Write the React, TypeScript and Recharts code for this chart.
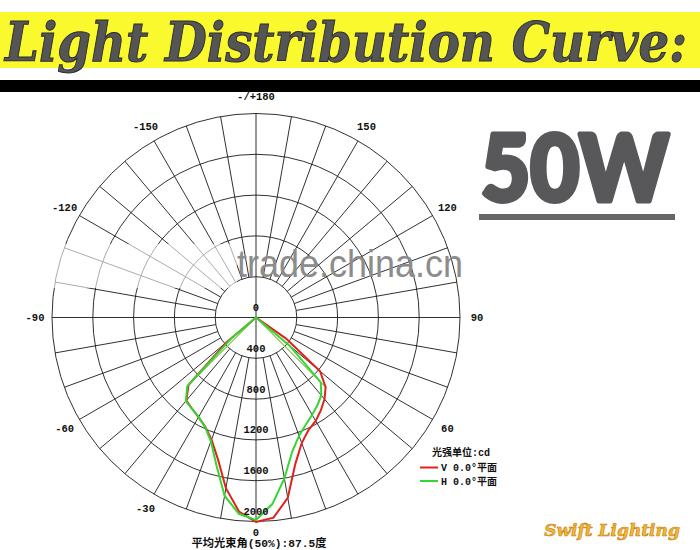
import React from 'react';
import { RadarChart, Radar, PolarGrid, PolarAngleAxis, PolarRadiusAxis } from 'recharts';

// ---- data ----
const angleDeg = [
  0, 5, 10, 15, 20, 25, 30, 35, 40, 45, 50, 55,
  60, 65, 70, 75, 80, 85, 90, 95, 100, 105, 110, 115,
  120, 125, 130, 135, 140, 145, 150, 155, 160, 165, 170, 175,
  180, 185, 190, 195, 200, 205, 210, 215, 220, 225, 230, 235,
  240, 245, 250, 255, 260, 265, 270, 275, 280, 285, 290, 295,
  300, 305, 310, 315, 320, 325, 330, 335, 340, 345, 350, 355,
];
// V 0.0° plane (red), cd
const vPlane = [
  2005, 1970, 1795, 1488, 1310, 1218, 1170, 1110, 1045, 965, 820, 360,
  0, 0, 0, 0, 0, 0, 0, 0, 0, 0, 0, 0,
  0, 0, 0, 0, 0, 0, 0, 0, 0, 0, 0, 0,
  0, 0, 0, 0, 0, 0, 0, 0, 0, 0, 0, 0,
  0, 0, 0, 0, 0, 0, 0, 0, 0, 0, 0, 0,
  0, 0, 380, 936, 1062, 1092, 1128, 1180, 1275, 1440, 1699, 1910,
];
// H 0.0° plane (green), cd
const hPlane = [
  1985, 1836, 1602, 1366, 1234, 1157, 1102, 1050, 996, 898, 430, 0,
  0, 0, 0, 0, 0, 0, 0, 0, 0, 0, 0, 0,
  0, 0, 0, 0, 0, 0, 0, 0, 0, 0, 0, 0,
  0, 0, 0, 0, 0, 0, 0, 0, 0, 0, 0, 0,
  0, 0, 0, 0, 0, 0, 0, 0, 0, 0, 0, 0,
  0, 0, 300, 954, 1070, 1095, 1126, 1183, 1292, 1499, 1774, 1932,
];
// beam-angle marker lines (50% intensity)
const beamV = [
  0, 0, 0, 0, 0, 0, 0, 0, 0, 980, 0, 0,
  0, 0, 0, 0, 0, 0, 0, 0, 0, 0, 0, 0,
  0, 0, 0, 0, 0, 0, 0, 0, 0, 0, 0, 0,
  0, 0, 0, 0, 0, 0, 0, 0, 0, 0, 0, 0,
  0, 0, 0, 0, 0, 0, 0, 0, 0, 0, 0, 0,
  0, 0, 0, 960, 0, 0, 0, 0, 0, 0, 0, 0,
];
const beamH = [
  0, 0, 0, 0, 0, 0, 0, 0, 0, 940, 0, 0,
  0, 0, 0, 0, 0, 0, 0, 0, 0, 0, 0, 0,
  0, 0, 0, 0, 0, 0, 0, 0, 0, 0, 0, 0,
  0, 0, 0, 0, 0, 0, 0, 0, 0, 0, 0, 0,
  0, 0, 0, 0, 0, 0, 0, 0, 0, 0, 0, 0,
  0, 0, 0, 930, 0, 0, 0, 0, 0, 0, 0, 0,
];
const radiusTicks = [0, 400, 800, 1200, 1600, 2000];
const angleTickDeg = [0, 60, 90, 120, 150, 180, 210, 240, 270, 300, 330];
const angleTickText = ['0', '60', '90', '120', '150', '-/+180', '-150', '-120', '-90', '-60', '-30'];
const gridAngles = [
  0, 10, 20, 30, 40, 50, 60, 70, 80, 90, 100, 110,
  120, 130, 140, 150, 160, 170, 180, 190, 200, 210, 220, 230,
  240, 250, 260, 270, 280, 290, 300, 310, 320, 330, 340, 350,
];

const rows = angleDeg.map((a, i) => ({ angle: a, V: vPlane[i], H: hPlane[i], bV: beamV[i], bH: beamH[i] }));

// ---- layout ----
const CX = 256;
const CY = 317.5;
const R = 204;
const R_MAX = 2000;
const INNER = (R * radiusTicks[1]) / R_MAX;
const LABEL_R = 221;
const STEP = 360 / angleDeg.length;
const labelFont = '"Liberation Mono", "DejaVu Sans Mono", monospace';
const cjkFont = '"Liberation Mono", "Noto Sans CJK SC", monospace';

const renderAngleTick = (props: any) => {
  const v = props?.payload?.value;
  const idx = angleTickDeg.indexOf(Number(v));
  if (idx < 0) return <g />;
  const rad = ((-90 + Number(v)) * Math.PI) / 180;
  const lr = Number(v) === 0 ? 215 : LABEL_R;
  const x = CX + lr * Math.cos(rad);
  const y = CY - lr * Math.sin(rad);
  return (
    <text x={x} y={y + 3.5} textAnchor="middle" fontFamily={labelFont} fontWeight="bold" fontSize={10.5} fill="#111">
      {angleTickText[idx]}
    </text>
  );
};

const renderRadiusTick = (props: any) => {
  const { x, y, payload } = props;
  return (
    <text x={x} y={y - 6.5} textAnchor="middle" fontFamily={labelFont} fontWeight="bold" fontSize={10.5} fill="#111">
      {payload?.value}
    </text>
  );
};

export default function App() {
  const radial = gridAngles.map((d) => {
    const r0 = d % 90 === 0 ? 0 : INNER;
    const rad = (d * Math.PI) / 180;
    return (
      <line
        key={d}
        x1={CX + r0 * Math.sin(rad)}
        y1={CY + r0 * Math.cos(rad)}
        x2={CX + R * Math.sin(rad)}
        y2={CY + R * Math.cos(rad)}
        stroke="#1a1a1a"
        strokeWidth={0.9}
      />
    );
  });

  return (
    <div style={{ position: 'absolute', left: 0, top: 0, width: 700, height: 550, background: '#fff', overflow: 'hidden' }}>
      <svg width={700} height={550} style={{ position: 'absolute', left: 0, top: 0 }}>
        <rect x={0} y={12} width={700} height={56} fill="#f9f92e" />
        <text
          x={5}
          y={61}
          fontFamily='"DejaVu Serif", serif'
          fontStyle="italic"
          fontWeight="bold"
          fontSize={54}
          textLength={682}
          lengthAdjust="spacingAndGlyphs"
          fill="#555"
          stroke="#2c2c2c"
          strokeWidth={1}
        >
          Light Distribution Curve:
        </text>
        <rect x={0} y={80} width={700} height={12} fill="#000" />
        {radial}
        <text
          x={481}
          y={201}
          fontFamily='Lato, "Open Sans", sans-serif'
          fontWeight={900}
          fontSize={92}
          textLength={188}
          lengthAdjust="spacingAndGlyphs"
          fill="#58585a"
          stroke="#58585a"
          strokeWidth={5}
          strokeLinejoin="round"
        >
          50W
        </text>
        <rect x={479} y={214} width={196} height={6} fill="#666" />
      </svg>

      <div style={{ position: 'absolute', left: 0, top: 0 }}>
        <RadarChart
          width={700}
          height={550}
          data={rows}
          cx={CX}
          cy={CY}
          outerRadius={R}
          startAngle={-90 - STEP}
          endAngle={270 - STEP}
          margin={{ top: 0, right: 0, bottom: 0, left: 0 }}
        >
          <PolarGrid gridType="circle" radialLines={false} stroke="#1a1a1a" strokeWidth={0.9} />
          <PolarAngleAxis dataKey="angle" tick={renderAngleTick} tickLine={false} axisLine={false} />
          <PolarRadiusAxis
            angle={-90}
            domain={[0, R_MAX]}
            ticks={radiusTicks}
            tickCount={6}
            allowDataOverflow
            axisLine={false}
            tick={renderRadiusTick}
          />
          <Radar dataKey="bV" stroke="#e08a50" strokeWidth={0.8} fill="none" fillOpacity={0} dot={false} isAnimationActive={false} />
          <Radar dataKey="bH" stroke="#7adf6a" strokeWidth={0.8} fill="none" fillOpacity={0} dot={false} isAnimationActive={false} />
          <Radar dataKey="V" stroke="#e0221c" strokeWidth={2} fill="none" fillOpacity={0} dot={false} isAnimationActive={false} />
          <Radar dataKey="H" stroke="#33d633" strokeWidth={2} fill="none" fillOpacity={0} dot={false} isAnimationActive={false} />
        </RadarChart>
      </div>

      <svg width={700} height={550} style={{ position: 'absolute', left: 0, top: 0, pointerEvents: 'none' }}>
        <rect x={42} y={244} width={195} height={44} fill="#fff" opacity={0.6} />
        <text
          x={237}
          y={277}
          fontFamily='"Liberation Sans", Arial, sans-serif'
          fontSize={38}
          textLength={226}
          lengthAdjust="spacingAndGlyphs"
          fill="#8c8c8c"
        >
          trade.china.cn
        </text>

        <text x={432} y={456} fontFamily={cjkFont} fontWeight="bold" fontSize={10} fill="#111">
          光强单位:cd
        </text>
        <line x1={420} y1={467.5} x2={438} y2={467.5} stroke="#e0221c" strokeWidth={2} />
        <text x={441} y={471} fontFamily={cjkFont} fontWeight="bold" fontSize={10} fill="#111">
          V 0.0°平面
        </text>
        <line x1={420} y1={481} x2={438} y2={481} stroke="#33d633" strokeWidth={2} />
        <text x={441} y={485} fontFamily={cjkFont} fontWeight="bold" fontSize={10} fill="#111">
          H 0.0°平面
        </text>

        <text
          x={259}
          y={547}
          textAnchor="middle"
          fontFamily={cjkFont}
          fontWeight="bold"
          fontSize={11}
          textLength={135}
          lengthAdjust="spacingAndGlyphs"
          fill="#111"
        >
          平均光束角(50%):87.5度
        </text>

        <text
          x={612}
          y={536}
          textAnchor="middle"
          fontFamily='"DejaVu Serif", serif'
          fontStyle="italic"
          fontWeight="bold"
          fontSize={17}
          fill="#f2b830"
          stroke="#c77a10"
          strokeWidth={0.6}
        >
          Swift Lighting
        </text>
      </svg>
    </div>
  );
}
